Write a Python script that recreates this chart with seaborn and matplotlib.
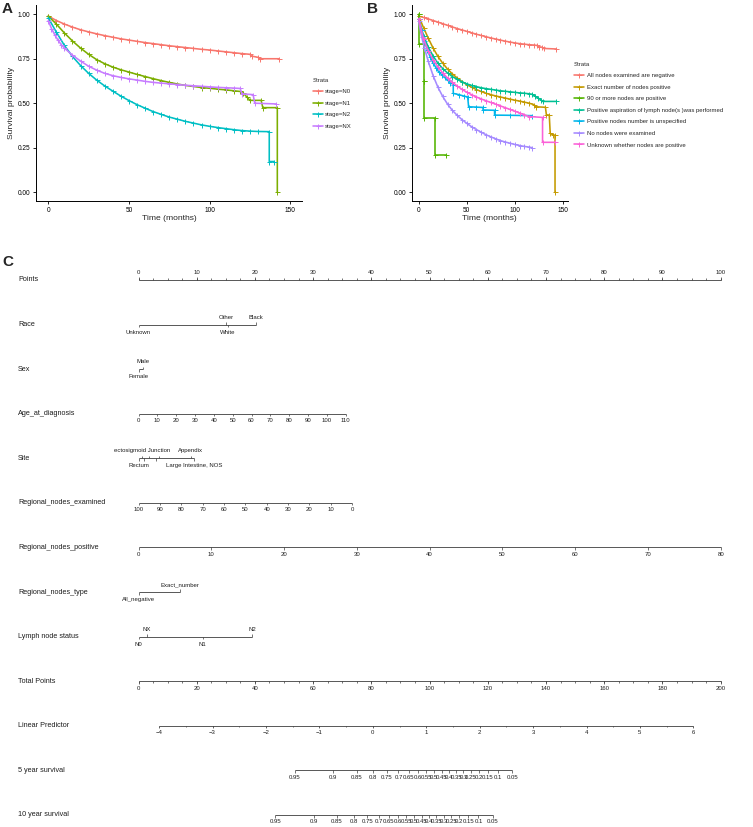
import numpy as np
import pandas as pd
import matplotlib
matplotlib.use("Agg")
import matplotlib.pyplot as plt
import seaborn as sns
from matplotlib.lines import Line2D

sns.set_theme(style="ticks")
plt.rcParams["font.family"] = ["Liberation Sans", "DejaVu Sans"]

# ---------------- DATA: panel A (KM by N stage) ----------------
a_order = ["stage=N0", "stage=N1", "stage=N2", "stage=NX"]
a_colors = ["#F8766D", "#7CAE00", "#00BFC4", "#C77CFF"]

n0_t = [0, 5, 10, 15, 20, 25, 30, 35, 40, 45, 50, 55, 60, 65, 70, 75, 80, 85, 90, 95, 100,
        105, 110, 115, 120, 125, 126, 130, 131, 143]
n0_s = [0.99, 0.965, 0.945, 0.928, 0.913, 0.901, 0.89, 0.88, 0.871, 0.862, 0.855, 0.848, 0.841,
        0.835, 0.829, 0.823, 0.818, 0.813, 0.808, 0.803, 0.799, 0.794, 0.789, 0.784, 0.779, 0.775,
        0.765, 0.758, 0.75, 0.75]
n1_t = [0, 5, 10, 15, 20, 25, 30, 35, 40, 45, 50, 55, 60, 65, 70, 75, 80, 85, 90, 95, 100, 105,
        110, 115, 119, 121, 123, 125, 132, 133, 142, 142]
n1_s = [0.99, 0.945, 0.895, 0.85, 0.81, 0.775, 0.745, 0.722, 0.703, 0.688, 0.675, 0.662, 0.65,
        0.638, 0.627, 0.617, 0.608, 0.6, 0.594, 0.588, 0.584, 0.579, 0.575, 0.57, 0.566, 0.556,
        0.536, 0.516, 0.516, 0.475, 0.475, 0.0]
n2_t = [0, 5, 10, 15, 20, 25, 30, 35, 40, 45, 50, 55, 60, 65, 70, 75, 80, 85, 90, 95, 100, 105,
        110, 115, 120, 125, 130, 137, 137, 140]
n2_s = [0.98, 0.9, 0.825, 0.763, 0.712, 0.668, 0.63, 0.597, 0.568, 0.54, 0.515, 0.492, 0.472,
        0.453, 0.437, 0.422, 0.41, 0.398, 0.388, 0.378, 0.37, 0.363, 0.357, 0.351, 0.346, 0.343,
        0.341, 0.34, 0.172, 0.172]
nx_t = [0, 2, 4, 6, 8, 10, 15, 20, 25, 30, 35, 40, 45, 50, 55, 60, 65, 70, 75, 80, 85, 90, 95,
        100, 105, 110, 115, 119, 120, 127, 128, 141]
nx_s = [0.965, 0.92, 0.885, 0.855, 0.83, 0.81, 0.77, 0.737, 0.708, 0.686, 0.668, 0.655, 0.645,
        0.637, 0.63, 0.623, 0.617, 0.613, 0.609, 0.605, 0.601, 0.598, 0.595, 0.592, 0.589, 0.587,
        0.585, 0.583, 0.553, 0.548, 0.5, 0.496]

# ---------------- DATA: panel B (KM by node type) ----------------
b_order = ["All nodes examined are negative", "Exact number of nodes positive",
           "90 or more nodes are positive", "Positive aspiration of lymph node(s )was performed",
           "Positive nodes number is unspecified", "No nodes were examined",
           "Unknown whether nodes are positive"]
b_colors = ["#F8766D", "#C49A00", "#53B400", "#00C094", "#00B6EB", "#A58AFF", "#FB61D7"]

neg_t = [0, 5, 10, 15, 20, 25, 30, 35, 40, 45, 50, 55, 60, 65, 70, 75, 80, 85, 90, 95, 100, 105,
         110, 115, 120, 123, 125, 128, 130, 143]
neg_s = [0.99, 0.982, 0.974, 0.965, 0.956, 0.947, 0.938, 0.929, 0.92, 0.912, 0.904, 0.896, 0.888,
         0.881, 0.874, 0.867, 0.861, 0.855, 0.849, 0.844, 0.839, 0.835, 0.832, 0.829, 0.827,
         0.825, 0.818, 0.815, 0.808, 0.805]
exa_t = [0, 5, 10, 15, 20, 25, 30, 35, 40, 45, 50, 55, 60, 65, 70, 75, 80, 85, 90, 95, 100, 105,
         110, 115, 120, 122, 132, 133, 136, 137, 140, 142, 142]
exa_s = [0.99, 0.925, 0.865, 0.81, 0.763, 0.725, 0.692, 0.665, 0.642, 0.622, 0.605, 0.59, 0.577,
         0.566, 0.556, 0.548, 0.541, 0.535, 0.529, 0.523, 0.517, 0.512, 0.506, 0.5, 0.492, 0.48,
         0.477, 0.435, 0.433, 0.33, 0.322, 0.32, 0.0]
n90_t = [0, 0.5, 0.5, 5, 5, 6, 6, 17, 17, 28]
n90_s = [1.0, 1.0, 0.833, 0.833, 0.625, 0.625, 0.417, 0.417, 0.208, 0.208]
asp_t = [0, 5, 10, 15, 20, 25, 30, 35, 40, 45, 50, 55, 60, 65, 70, 75, 80, 85, 90, 95, 100, 105,
         110, 115, 118, 121, 124, 127, 129, 143]
asp_s = [0.975, 0.88, 0.815, 0.765, 0.725, 0.695, 0.67, 0.65, 0.634, 0.62, 0.609, 0.6, 0.593,
         0.587, 0.582, 0.578, 0.574, 0.57, 0.567, 0.564, 0.561, 0.558, 0.556, 0.553, 0.55, 0.54,
         0.53, 0.52, 0.51, 0.51]
uns_t = [0, 3, 6, 9, 12, 15, 18, 21, 24, 27, 30, 33, 36, 36, 42, 47, 51, 52, 60, 67, 67, 79, 79,
         95, 118]
uns_s = [0.975, 0.91, 0.85, 0.8, 0.76, 0.725, 0.7, 0.675, 0.66, 0.645, 0.63, 0.615, 0.605, 0.555,
         0.548, 0.54, 0.535, 0.48, 0.478, 0.476, 0.462, 0.46, 0.433, 0.432, 0.43]
non_t = [0, 3, 6, 10, 15, 20, 25, 30, 35, 40, 45, 50, 55, 60, 65, 70, 75, 80, 85, 90, 95, 100,
         105, 110, 115, 118]
non_s = [0.96, 0.875, 0.81, 0.735, 0.655, 0.59, 0.538, 0.495, 0.46, 0.432, 0.408, 0.387, 0.368,
         0.352, 0.337, 0.323, 0.311, 0.3, 0.29, 0.282, 0.275, 0.268, 0.262, 0.257, 0.253, 0.25]
unk_t = [0, 5, 10, 15, 20, 25, 30, 35, 40, 45, 50, 55, 60, 65, 70, 75, 80, 85, 90, 95, 100, 105,
         110, 115, 129, 129, 142]
unk_s = [0.975, 0.86, 0.795, 0.745, 0.705, 0.67, 0.642, 0.618, 0.597, 0.578, 0.562, 0.548, 0.535,
         0.524, 0.514, 0.504, 0.495, 0.485, 0.475, 0.465, 0.455, 0.445, 0.435, 0.425, 0.42, 0.28,
         0.28]

# ---------------- DATA: panel C (nomogram) ----------------
row_names = ["Points", "Race", "Sex", "Age_at_diagnosis", "Site", "Regional_nodes_examined",
             "Regional_nodes_positive", "Regional_nodes_type", "Lymph node status",
             "Total Points", "Linear Predictor", "5 year survival", "10 year survival"]
points_ticks = [0, 10, 20, 30, 40, 50, 60, 70, 80, 90, 100]
race_levels = ["Unknown", "White", "Other", "Black"]
race_points = [0.0, 15.3, 15.0, 20.2]
race_side = [1, 1, -1, -1]            # 1 = label below, -1 = label above
sex_levels = ["Female", "Male"]
sex_points = [0.0, 0.7]
sex_side = [1, -1]
age_ticks = [0, 10, 20, 30, 40, 50, 60, 70, 80, 90, 100, 110]
age_points_at_max = 35.6
site_levels = ["Rectum", "Rectosigmoid Junction", "Sigmoid Colon", "Descending Colon", "Cecum",
               "Transverse Colon", "Appendix", "Large Intestine, NOS"]
site_labels = ["Rectum", "ectosigmoid Junction", "", "", "", "", "Appendix", "Large Intestine, NOS"]
site_points = [0.0, 0.55, 1.0, 1.86, 2.95, 3.52, 8.97, 9.58]
site_side = [1, -1, 1, -1, 1, -1, -1, 1]
rne_ticks = [100, 90, 80, 70, 60, 50, 40, 30, 20, 10, 0]
rne_points_at_zero = 36.7
rnp_ticks = [0, 10, 20, 30, 40, 50, 60, 70, 80]
rnp_points_at_max = 100.0
rnt_levels = ["All_negative", "Exact_number"]
rnt_points = [0.0, 7.2]
rnt_side = [1, -1]
ln_levels = ["N0", "NX", "N1", "N2"]
ln_points = [0.0, 1.4, 11.0, 19.5]
ln_side = [1, -1, 1, -1]
total_ticks = [0, 20, 40, 60, 80, 100, 120, 140, 160, 180, 200]
lp_ticks = [-4, -3, -2, -1, 0, 1, 2, 3, 4, 5, 6]
lp_total_at_zero = 80.5
lp_total_per_unit = 18.35
surv_ticks = [0.95, 0.9, 0.85, 0.8, 0.75, 0.7, 0.65, 0.6, 0.55, 0.5, 0.45, 0.4, 0.35, 0.3,
              0.25, 0.2, 0.15, 0.1, 0.05]
surv_labels = ["0.95", "0.9", "0.85", "0.8", "0.75", "0.7", "0.65", "0.6", "0.55", "0.5", "0.45",
               "0.4", "0.35", "0.3", "0.25", "0.2", "0.15", "0.1", "0.05"]
baseline_5y = 0.802
baseline_10y = 0.727

# ---------------- FIGURE ----------------
W, H = 753, 827
fig = plt.figure(figsize=(W / 100, H / 100), dpi=100)


def px_axes(l, t, r, b):
    return fig.add_axes([l / W, 1 - b / H, (r - l) / W, (b - t) / H])


def long_df(order, times, survs):
    parts = []
    for name, t, s in zip(order, times, survs):
        parts.append(pd.DataFrame({"time": t, "surv": s, "strata": name}))
    return pd.concat(parts, ignore_index=True)


LW, MS, MEW = 1.15, 3.6, 0.7


def km_panel(ax, df, order, colors, xlim, leg_xy):
    sns.lineplot(data=df, x="time", y="surv", hue="strata", hue_order=order,
                 palette=colors, estimator=None, sort=False, marker="+", markersize=MS,
                 markeredgewidth=MEW, linewidth=LW, legend=False, ax=ax)
    for ln in ax.lines:
        ln.set_markeredgecolor(ln.get_color())
        ln.set_markerfacecolor(ln.get_color())
    ax.set_xlim(*xlim)
    ax.set_ylim(-0.05, 1.05)
    ax.set_xticks([0, 50, 100, 150])
    ax.set_yticks([0, 0.25, 0.5, 0.75, 1.0])
    ax.set_yticklabels(["0.00", "0.25", "0.50", "0.75", "1.00"])
    ax.tick_params(labelsize=4.7, length=2.5, width=0.6, pad=1.5, colors="black")
    for s in ["top", "right"]:
        ax.spines[s].set_visible(False)
    for s in ["left", "bottom"]:
        ax.spines[s].set_color("black")
        ax.spines[s].set_linewidth(0.7)
    ax.set_xlabel("Time (months)", fontsize=6.1, labelpad=1)
    ax.set_ylabel("Survival probability", fontsize=6.1, labelpad=2)
    handles = [Line2D([0], [0], color=c, lw=LW, marker="+", markersize=MS,
                      markeredgewidth=MEW) for c in colors]
    fig.legend(handles, order, title="Strata", loc="upper left",
               bbox_to_anchor=(leg_xy[0] / W, 1 - leg_xy[1] / H), frameon=False,
               fontsize=4.35, title_fontsize=4.35, alignment="left", handlelength=1.7,
               handletextpad=0.4, labelspacing=1.05, borderpad=0, borderaxespad=0)


axA = px_axes(36, 5.4, 302, 201)
dfA = long_df(a_order, [n0_t, n1_t, n2_t, nx_t], [n0_s, n1_s, n2_s, nx_s])
km_panel(axA, dfA, a_order, a_colors, (-7.6, 157.3), (312.5, 77.5))

axB = px_axes(411.7, 5.4, 567.7, 201)
dfB = long_df(b_order, [neg_t, exa_t, n90_t, asp_t, uns_t, non_t, unk_t],
              [neg_s, exa_s, n90_s, asp_s, uns_s, non_s, unk_s])
km_panel(axB, dfB, b_order, b_colors, (-7.3, 155.2), (574, 61.5))

fig.text(2 / W, 1 - 9 / H, "A", fontsize=11, fontweight="bold", va="center", ha="left")
fig.text(367 / W, 1 - 9 / H, "B", fontsize=11, fontweight="bold", va="center", ha="left")
fig.text(2 / W, 1 - 262 / H, "C", fontsize=11, fontweight="bold", va="center", ha="left")

# ---------------- nomogram ----------------
PX0, PXPP = 138.5, 5.822           # pixel of 0 points, pixels per point
ROW0, ROWPX = 280.0, 44.58         # pixel of first row, pixels per row
TOP = 250.0
axC = px_axes(0, TOP, W, H)
axC.set_xlim(-PX0 / PXPP, (W - PX0) / PXPP)
axC.set_ylim((H - ROW0) / ROWPX, (TOP - ROW0) / ROWPX)
axC.axis("off")

LC = "#3c3c3c"
TC = "#1e1e1e"
TL = 2.6 / ROWPX
OFF_AX = 7.0 / ROWPX
OFF_CAT = 7.5 / ROWPX
FS = 4.3


def hline(r, p0, p1):
    axC.plot([p0, p1], [r, r], color=LC, lw=0.6, solid_capstyle="butt")


def ticks(r, pts, direction, length=TL, lw=0.5):
    pts = np.asarray(pts, dtype=float)
    axC.vlines(pts, r, r + direction * length, color=LC, lw=lw)


def labels(r, pts, texts, direction, off):
    for p, t in zip(pts, texts):
        if t:
            axC.text(p, r + direction * off, t, ha="center", va="center", fontsize=FS, color=TC)


def categorical(r, pts, texts, sides):
    hline(r, min(pts), max(pts))
    for p, t, sd in zip(pts, texts, sides):
        ticks(r, [p], sd)
        labels(r, [p], [t], sd, OFF_CAT)


def continuous(r, pts, texts, minor=None, direction=1):
    hline(r, min(pts), max(pts))
    ticks(r, pts, direction)
    if minor is not None:
        ticks(r, minor, direction, length=TL * 0.6)
    labels(r, pts, texts, direction, OFF_AX)


for i, name in enumerate(row_names):
    axC.text(18 / W, i, name, transform=axC.get_yaxis_transform(), ha="left", va="center",
             fontsize=5.2, color=TC)

# Points
pp = np.array(points_ticks, dtype=float)
continuous(0, pp, [str(v) for v in points_ticks],
           minor=np.arange(0, 100.01, 2.5), direction=-1)
# Race, Sex
categorical(1, race_points, race_levels, race_side)
categorical(2, sex_points, sex_levels, sex_side)
# Age
age = np.array(age_ticks, dtype=float)
continuous(3, age * age_points_at_max / max(age_ticks), [str(v) for v in age_ticks])
# Site
categorical(4, site_points, site_labels, site_side)
# Regional nodes examined
rne = np.array(rne_ticks, dtype=float)
continuous(5, (max(rne_ticks) - rne) * rne_points_at_zero / max(rne_ticks),
           [str(v) for v in rne_ticks])
# Regional nodes positive
rnp = np.array(rnp_ticks, dtype=float)
continuous(6, rnp * rnp_points_at_max / max(rnp_ticks), [str(v) for v in rnp_ticks])
# Regional nodes type, lymph node status
categorical(7, rnt_points, rnt_levels, rnt_side)
categorical(8, ln_points, ln_levels, ln_side)
# Total points (0..200 total mapped onto 0..100 points)
tp_scale = 100.0 / max(total_ticks)
tot = np.array(total_ticks, dtype=float)
continuous(9, tot * tp_scale, [str(v) for v in total_ticks],
           minor=np.arange(0, 200.01, 5) * tp_scale)


def lp_to_pts(lp):
    return (lp_total_at_zero + lp_total_per_unit * np.asarray(lp, dtype=float)) * tp_scale


lp = np.array(lp_ticks, dtype=float)
continuous(10, lp_to_pts(lp), [("\u2212" + str(-v)) if v < 0 else str(v) for v in lp_ticks],
           minor=lp_to_pts(np.arange(-4, 6.01, 0.5)))


def surv_to_pts(s, s0):
    s = np.asarray(s, dtype=float)
    return lp_to_pts(np.log(np.log(s) / np.log(s0)))


continuous(11, surv_to_pts(surv_ticks, baseline_5y), surv_labels)
continuous(12, surv_to_pts(surv_ticks, baseline_10y), surv_labels)

fig.savefig("out.png", dpi=100)
